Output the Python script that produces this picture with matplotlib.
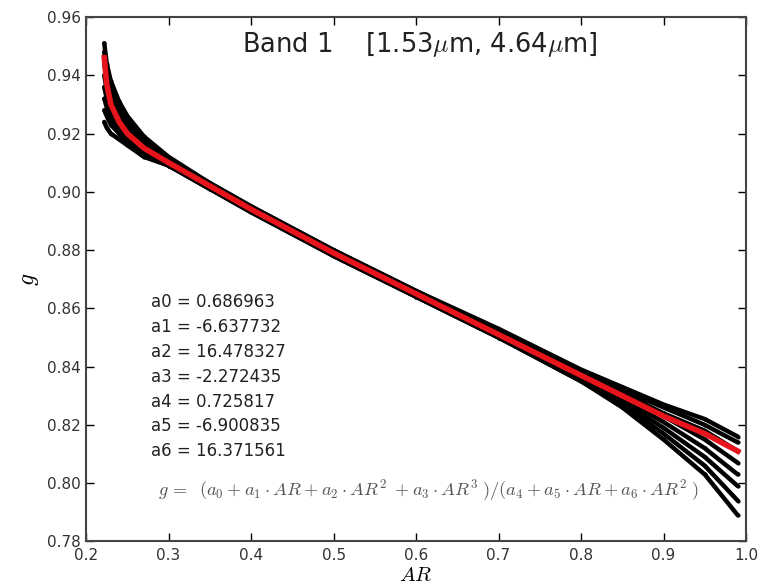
import matplotlib
matplotlib.use("Agg")
import matplotlib.pyplot as plt

# AR sample positions
ar = [0.222, 0.225, 0.23, 0.24, 0.25, 0.27, 0.30, 0.35, 0.40, 0.50, 0.60,
      0.70, 0.80, 0.85, 0.90, 0.95, 0.99]

# black simulated curves (top to bottom)
g_c1 = [0.951, 0.944, 0.938, 0.931, 0.926, 0.919, 0.912, 0.903, 0.895, 0.880, 0.866, 0.853, 0.839, 0.833, 0.827, 0.822, 0.816]
g_c2 = [0.948, 0.941, 0.935, 0.929, 0.924, 0.918, 0.911, 0.903, 0.895, 0.880, 0.866, 0.852, 0.838, 0.832, 0.826, 0.820, 0.814]
g_c3 = [0.944, 0.938, 0.933, 0.927, 0.923, 0.917, 0.911, 0.902, 0.894, 0.879, 0.865, 0.852, 0.838, 0.831, 0.824, 0.818, 0.811]
g_c4 = [0.940, 0.935, 0.930, 0.925, 0.921, 0.916, 0.910, 0.902, 0.894, 0.879, 0.865, 0.851, 0.837, 0.830, 0.823, 0.815, 0.807]
g_c5 = [0.936, 0.932, 0.928, 0.923, 0.920, 0.915, 0.910, 0.902, 0.894, 0.879, 0.865, 0.851, 0.836, 0.829, 0.821, 0.812, 0.803]
g_c6 = [0.932, 0.929, 0.925, 0.921, 0.918, 0.914, 0.909, 0.901, 0.894, 0.878, 0.864, 0.850, 0.836, 0.828, 0.819, 0.809, 0.799]
g_c7 = [0.928, 0.926, 0.923, 0.920, 0.917, 0.913, 0.909, 0.901, 0.893, 0.878, 0.864, 0.850, 0.835, 0.827, 0.817, 0.806, 0.794]
g_c8 = [0.924, 0.922, 0.920, 0.918, 0.916, 0.912, 0.909, 0.901, 0.893, 0.878, 0.864, 0.850, 0.835, 0.826, 0.815, 0.803, 0.789]
black_curves = [g_c1, g_c2, g_c3, g_c4, g_c5, g_c6, g_c7, g_c8]

# red fitted curve
g_fit = [0.946, 0.937, 0.930, 0.924, 0.920, 0.915, 0.910, 0.902, 0.894, 0.879, 0.865, 0.851, 0.837, 0.830, 0.823, 0.817, 0.811]

coef_names = ["a0", "a1", "a2", "a3", "a4", "a5", "a6"]
coef_values = ["0.686963", "-6.637732", "16.478327", "-2.272435", "0.725817", "-6.900835", "16.371561"]

xticks = [0.2, 0.3, 0.4, 0.5, 0.6, 0.7, 0.8, 0.9, 1.0]
yticks = [0.78, 0.80, 0.82, 0.84, 0.86, 0.88, 0.90, 0.92, 0.94, 0.96]

plt.rcParams['mathtext.fontset'] = 'cm'
fig = plt.figure(figsize=(7.62, 5.86), dpi=100)
ax = fig.add_axes([0.113, 0.076, 0.866, 0.895])

for c in black_curves:
    ax.plot(ar, c, color='black', lw=3.2, marker='.', ms=4,
            solid_capstyle='round', solid_joinstyle='round', zorder=2)
ax.plot(ar, g_fit, color='#e8141c', lw=4.0, solid_joinstyle='round', zorder=3)

ax.set_xlim(0.2, 1.0)
ax.set_ylim(0.78, 0.96)
ax.set_xticks(xticks)
ax.set_yticks(yticks)
ax.set_xticklabels([f"{v:.1f}" for v in xticks])
ax.set_yticklabels([f"{v:.2f}" for v in yticks])
ax.tick_params(direction='in', top=True, right=True, length=6, width=1,
               labelsize=11, labelcolor='#333333')
ax.tick_params(axis='x', pad=5)
ax.tick_params(axis='y', pad=4)
for s in ax.spines.values():
    s.set_linewidth(1.5)
    s.set_color('#444444')

ax.set_xlabel("$AR$", fontsize=15)
ax.xaxis.set_label_coords(0.5, -0.044)
ax.set_ylabel("$g$", fontsize=17, labelpad=4)

ax.text(0.506, 0.947, r"Band 1    [1.53$\mu$m, 4.64$\mu$m]", transform=ax.transAxes,
        ha='center', va='center', fontsize=18.5, color='#222222')

for i, (n, v) in enumerate(zip(coef_names, coef_values)):
    ax.text(0.098, 0.456 - i * 0.0473, f"{n} = {v}", transform=ax.transAxes,
            ha='left', va='center', fontsize=12, color='#222222')

ax.text(0.109, 0.097,
        r"$g\,=\;\;(a_0+a_1\cdot AR+a_2\cdot AR^2\;+a_3\cdot AR^3\;)/(a_4+a_5\cdot AR+a_6\cdot AR^2\;)$",
        transform=ax.transAxes, ha='left', va='center', fontsize=13.2, color='#555555')

fig.savefig("out.png", dpi=100)
